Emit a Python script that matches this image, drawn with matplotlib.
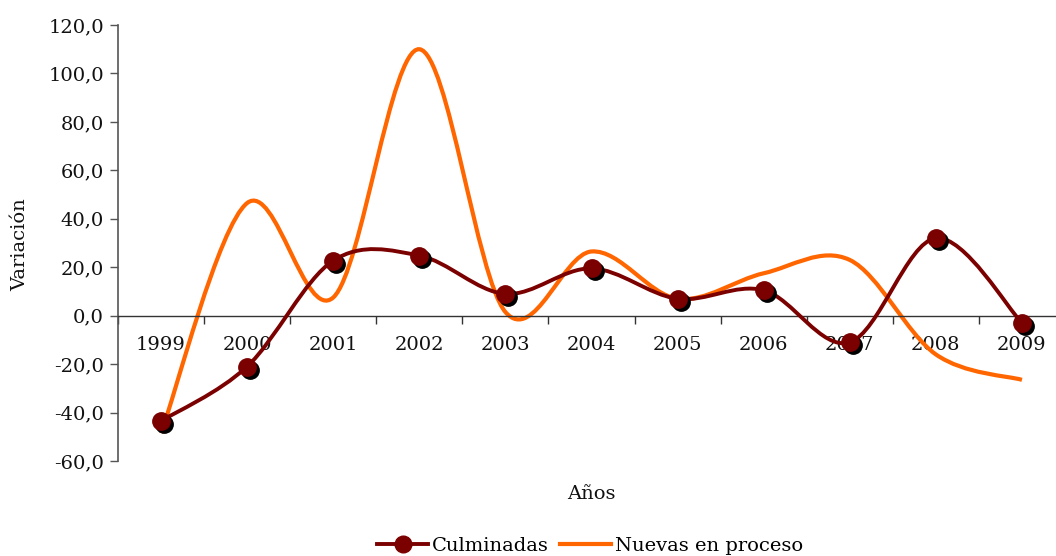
import numpy as np
import matplotlib
matplotlib.use("Agg")
import matplotlib.pyplot as plt
from matplotlib.path import Path
from matplotlib.patches import PathPatch
from matplotlib.lines import Line2D
import matplotlib.transforms as mtransforms
from matplotlib.ticker import FuncFormatter, MultipleLocator, FixedLocator

years = ["1999", "2000", "2001", "2002", "2003", "2004", "2005", "2006", "2007", "2008", "2009"]
culminadas = [-43.5, -21.0, 22.7, 24.8, 9.0, 19.5, 7.0, 10.5, -11.0, 32.0, -3.0]
nuevas = [-48.5, 46.5, 7.5, 110.0, 1.5, 26.5, 7.0, 17.5, 23.0, -16.0, -26.5]

COL_C = "#7B0000"
COL_N = "#FF6600"
FS = 14
plt.rcParams['font.family'] = ['DejaVu Serif']


def smooth_path(xs, ys, t=1.0 / 6.0):
    xs = np.asarray(xs, float)
    ys = np.asarray(ys, float)
    n = len(xs)
    verts = [(xs[0], ys[0])]
    codes = [Path.MOVETO]
    for i in range(n - 1):
        p0 = np.array([xs[max(i - 1, 0)], ys[max(i - 1, 0)]])
        p1 = np.array([xs[i], ys[i]])
        p2 = np.array([xs[i + 1], ys[i + 1]])
        p3 = np.array([xs[min(i + 2, n - 1)], ys[min(i + 2, n - 1)]])
        c1 = p1 + (p2 - p0) * t
        c2 = p2 - (p3 - p1) * t
        verts += [tuple(c1), tuple(c2), tuple(p2)]
        codes += [Path.CURVE4] * 3
    return Path(verts, codes)


fig = plt.figure(figsize=(10.56, 5.56), dpi=100)
ax = fig.add_axes([118 / 1056, 95 / 556, 947 / 1056, 436 / 556])

x = np.arange(len(years))

ax.add_patch(PathPatch(smooth_path(x, culminadas), facecolor="none",
                       edgecolor=COL_C, lw=2.8, zorder=3, capstyle="round"))
shadow = ax.transData + mtransforms.ScaledTranslation(3 / 100, -3 / 100, fig.dpi_scale_trans)
ax.plot(x, culminadas, linestyle="none", marker="o", ms=12.5, color="black",
        transform=shadow, zorder=4)
ax.plot(x, culminadas, linestyle="none", marker="o", ms=12.5, color=COL_C, zorder=5)
ax.add_patch(PathPatch(smooth_path(x, nuevas), facecolor="none",
                       edgecolor=COL_N, lw=3.0, zorder=2, capstyle="butt"))

ax.set_xlim(-0.5, len(years) - 0.5)
ax.set_ylim(-60, 120)
ax.yaxis.set_major_locator(MultipleLocator(20))
ax.yaxis.set_major_formatter(FuncFormatter(lambda v, p: f"{v:.1f}".replace(".", ",")))
ax.set_xticks(x)
ax.set_xticklabels(years)
ax.xaxis.set_minor_locator(FixedLocator(np.arange(-0.5, len(years), 1.0)))
ax.tick_params(axis="x", which="major", length=0, pad=15, labelsize=FS, colors="#111111")
ax.tick_params(axis="x", which="minor", length=6, width=1.0, direction="out", color="#333333")
ax.tick_params(axis="y", which="major", length=6, width=1.0, direction="out",
               labelsize=FS, colors="#111111", pad=4)
ax.tick_params(axis="y", color="#555555")

for s in ["top", "right"]:
    ax.spines[s].set_visible(False)
ax.spines["bottom"].set_position(("data", 0))
ax.spines["bottom"].set_color("#333333")
ax.spines["left"].set_color("#555555")
ax.spines["bottom"].set_linewidth(1.0)
ax.spines["left"].set_linewidth(1.2)

fig.text(20 / 1056, 1 - 245 / 556, "Variación", rotation=90, ha="center", va="center",
         fontsize=FS, color="#111111")
fig.text(591 / 1056, 1 - 494 / 556, "Años", ha="center", va="center",
         fontsize=FS, color="#111111")

handles = [Line2D([], [], color=COL_C, lw=2.8, marker="o", ms=12),
           Line2D([], [], color=COL_N, lw=3.0)]
fig.legend(handles, ["Culminadas", "Nuevas en proceso"], loc="center",
           bbox_to_anchor=(590 / 1056, 1 - 546 / 556), ncol=2, frameon=False,
           fontsize=FS, handlelength=2.6, handletextpad=0.2, columnspacing=0.6,
           borderpad=0, borderaxespad=0)

fig.savefig("out.png", dpi=100)
